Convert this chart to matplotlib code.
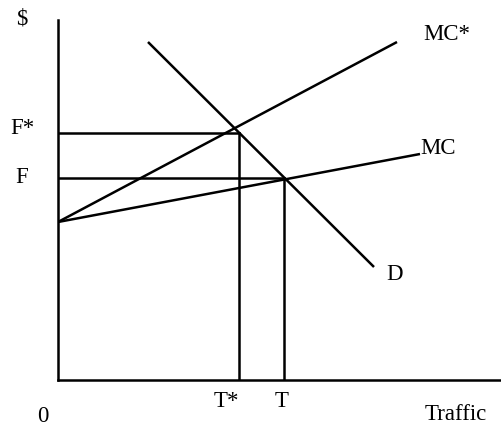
import matplotlib
matplotlib.use('Agg')
import matplotlib.pyplot as plt

# Supply / demand sketch, values in axis units (origin at 0,0)
f_star = 247.5
f_base = 202.5
t_star = 181
t_base = 226
mc_intercept = 158

mc_star_x = [0, 339]
mc_star_y = [mc_intercept, 338]
mc_x = [0, 362]
mc_y = [mc_intercept, 226]
d_x = [90, 316]
d_y = [338, 113]

plt.rcParams['font.family'] = ['Liberation Serif', 'DejaVu Serif']

fig = plt.figure(figsize=(5.02, 4.29), dpi=100)
ax = fig.add_axes([58 / 502, 49 / 429, 444 / 502, 360 / 429])
ax.set_xlim(0, 444)
ax.set_ylim(0, 360)

lw = 1.8
ax.plot(mc_star_x, mc_star_y, color='black', lw=lw, solid_capstyle='butt')
ax.plot(mc_x, mc_y, color='black', lw=lw, solid_capstyle='butt')
ax.plot(d_x, d_y, color='black', lw=lw, solid_capstyle='butt')

# guide lines at the two equilibria
ax.plot([0, t_star], [f_star, f_star], color='black', lw=lw)
ax.plot([t_star, t_star], [0, f_star], color='black', lw=lw)
ax.plot([0, t_base], [f_base, f_base], color='black', lw=lw)
ax.plot([t_base, t_base], [0, f_base], color='black', lw=lw)

for side in ['top', 'right']:
    ax.spines[side].set_visible(False)
for side in ['left', 'bottom']:
    ax.spines[side].set_linewidth(lw)
ax.set_xticks([])
ax.set_yticks([])

fs = 16.5
kw = dict(fontsize=fs, ha='center', va='center', clip_on=False)
ax.text(-36, 361, '$', **kw)
ax.text(-36, 252, 'F*', **kw)
ax.text(-36, 202.5, 'F', **kw)
ax.text(389, 346, 'MC*', **kw)
ax.text(362, 231.5, 'MC', ha='left', va='center', fontsize=fs, clip_on=False)
ax.text(337, 106, 'D', **kw)
ax.text(168, -21.7, 'T*', **kw)
ax.text(224, -21.7, 'T', **kw)
ax.text(-15, -36.7, '0', **kw)
ax.text(398, -35, 'Traffic', **kw)

fig.savefig('out.png', dpi=100)
